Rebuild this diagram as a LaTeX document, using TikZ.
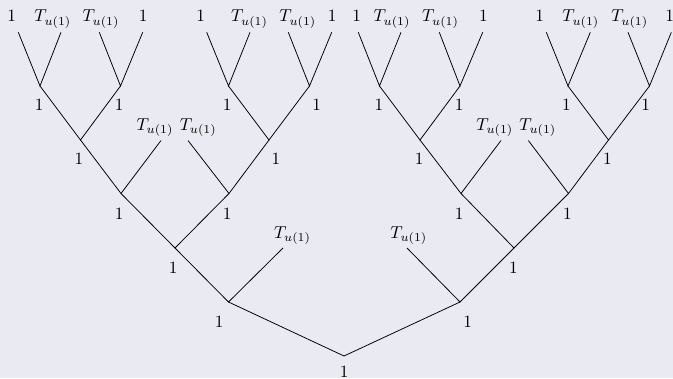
\documentclass[tikz,border=0pt]{standalone}
\definecolor{bgcol}{RGB}{234,234,242}
\begin{document}
\begin{tikzpicture}[x=0.58pt,y=-0.58pt,
  lbl/.style={anchor=base,inner sep=0pt},
  br/.style={line width=0.45pt,black}]
\fill[bgcol] (0,0) rectangle (673,378);
\useasboundingbox (0,0) rectangle (673,378);
% junctions
\coordinate (root) at (344,356);
\coordinate (L) at (228.5,302);   \coordinate (R) at (460,302);
\coordinate (LL) at (175,248);    \coordinate (Lt) at (283,248);
\coordinate (Rt) at (407,248);    \coordinate (RR) at (514,248);
\coordinate (LLL) at (121,193.5); \coordinate (LLR) at (229,193.5);
\coordinate (RRL) at (461,193.5); \coordinate (RRR) at (568.5,193.5);
\coordinate (A) at (80.5,140);    \coordinate (At) at (161,140.5);
\coordinate (Bt) at (188,140.5);  \coordinate (B) at (269,140);
\coordinate (C) at (420,140);     \coordinate (Ct) at (501,140.5);
\coordinate (Dt) at (528.3,140.5);\coordinate (D) at (608.5,140);
\coordinate (A1) at (40,86);      \coordinate (A2) at (120.5,86);
\coordinate (B1) at (228.5,86);   \coordinate (B2) at (309.5,86);
\coordinate (C1) at (379.5,86);   \coordinate (C2) at (460,86);
\coordinate (D1) at (568,86);     \coordinate (D2) at (649.5,86);
% top tips
\coordinate (a1) at (18.3,32.3);  \coordinate (a2) at (61,32.3);
\coordinate (a3) at (99.3,32.3);  \coordinate (a4) at (142.7,32.3);
\coordinate (b1) at (206.7,32.3); \coordinate (b2) at (250,32.3);
\coordinate (b3) at (288.3,32.3); \coordinate (b4) at (331.7,32.3);
\coordinate (c1) at (358.3,32.3); \coordinate (c2) at (401,32.3);
\coordinate (c3) at (439.3,32.3); \coordinate (c4) at (482.7,32.3);
\coordinate (d1) at (546.3,32.3); \coordinate (d2) at (590.3,32.3);
\coordinate (d3) at (628,32.3);   \coordinate (d4) at (671.3,32.3);
% branches
\draw[br] (L) -- (root) -- (R);
\draw[br] (LL) -- (L) -- (Lt);
\draw[br] (Rt) -- (R) -- (RR);
\draw[br] (LLL) -- (LL) -- (LLR);
\draw[br] (RRL) -- (RR) -- (RRR);
\draw[br] (A) -- (LLL) -- (At);
\draw[br] (Bt) -- (LLR) -- (B);
\draw[br] (C) -- (RRL) -- (Ct);
\draw[br] (Dt) -- (RRR) -- (D);
\draw[br] (A1) -- (A) -- (A2);
\draw[br] (B1) -- (B) -- (B2);
\draw[br] (C1) -- (C) -- (C2);
\draw[br] (D1) -- (D) -- (D2);
\draw[br] (a1) -- (A1) -- (a2);
\draw[br] (a3) -- (A2) -- (a4);
\draw[br] (b1) -- (B1) -- (b2);
\draw[br] (b3) -- (B2) -- (b4);
\draw[br] (c1) -- (C1) -- (c2);
\draw[br] (c3) -- (C2) -- (c4);
\draw[br] (d1) -- (D1) -- (d2);
\draw[br] (d3) -- (D2) -- (d4);
% top labels
\node[lbl] (ta1) at (11.7,22) {$1$};
\node[lbl] (ta2) at (52.8,22) {$T_{u(1)}$};
\node[lbl] (ta3) at (101,22) {$T_{u(1)}$};
\node[lbl] (ta4) at (143.3,22) {$1$};
\node[lbl] (tb1) at (200.7,22) {$1$};
\node[lbl] (tb2) at (249.5,22) {$T_{u(1)}$};
\node[lbl] (tb3) at (297.8,22) {$T_{u(1)}$};
\node[lbl] (tb4) at (332.3,22) {$1$};
\node[lbl] (tc1) at (356.7,22) {$1$};
\node[lbl] (tc2) at (392,22) {$T_{u(1)}$};
\node[lbl] (tc3) at (440.5,22) {$T_{u(1)}$};
\node[lbl] (tc4) at (483.3,22) {$1$};
\node[lbl] (td1) at (539.7,22) {$1$};
\node[lbl] (td2) at (580.8,22) {$T_{u(1)}$};
\node[lbl] (td3) at (629.7,22) {$T_{u(1)}$};
\node[lbl] (td4) at (669.7,22) {$1$};
% middle T labels
\node[lbl] (tAt) at (155,130) {$T_{u(1)}$};
\node[lbl] (tBt) at (198.2,130) {$T_{u(1)}$};
\node[lbl] (tCt) at (494.8,130) {$T_{u(1)}$};
\node[lbl] (tDt) at (537.8,130) {$T_{u(1)}$};
% lower T labels
\node[lbl] (tLt) at (292.5,238) {$T_{u(1)}$};
\node[lbl] (tRt) at (408.8,238) {$T_{u(1)}$};
% internal labels
\node[lbl] (lA1) at (39.3,111) {$1$};
\node[lbl] (lA2) at (119.3,111) {$1$};
\node[lbl] (lB1) at (227.3,111) {$1$};
\node[lbl] (lB2) at (316.7,111) {$1$};
\node[lbl] (lC1) at (379,111) {$1$};
\node[lbl] (lC2) at (459.3,111) {$1$};
\node[lbl] (lD1) at (566.3,111) {$1$};
\node[lbl] (lD2) at (645.7,111) {$1$};
\node[lbl] (lA) at (79,164.5) {$1$};
\node[lbl] (lB) at (276,164.5) {$1$};
\node[lbl] (lC) at (419.3,164.5) {$1$};
\node[lbl] (lD) at (607.3,164.5) {$1$};
\node[lbl] (lLLL) at (119.3,219) {$1$};
\node[lbl] (lLLR) at (227.3,219) {$1$};
\node[lbl] (lRRL) at (459.3,219) {$1$};
\node[lbl] (lRRR) at (567.3,219) {$1$};
\node[lbl] (lLL) at (173.3,273) {$1$};
\node[lbl] (lRR) at (513.3,273) {$1$};
\node[lbl] (lL) at (219.3,327) {$1$};
\node[lbl] (lR) at (467.7,327) {$1$};
\node[lbl] (lroot) at (344.3,377) {$1$};
\end{tikzpicture}
\end{document}
